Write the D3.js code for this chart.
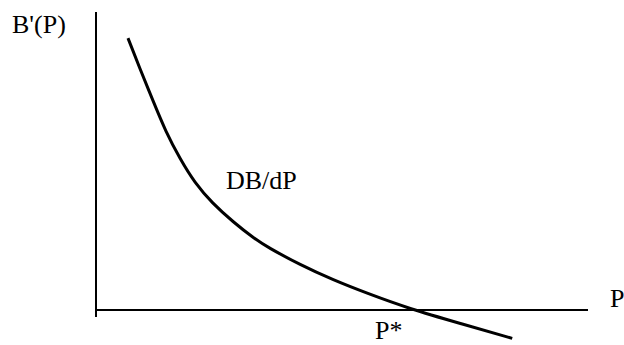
<!DOCTYPE html>
<html>
<head>
    <meta charset="UTF-8">
    <script src="https://d3js.org/d3.v7.min.js"></script>
    <style>
        body { margin: 0; background: #fff; }
    </style>
</head>
<body>
    <div id="chart"></div>
    <script>
        // marginal benefit curve
        const pValues = [6.5, 8.9, 11.6, 14.2, 17.1, 20.1, 23.6, 27.9, 32.3, 34.8, 41.5, 48.2, 55.1, 63.8, 74.0, 84.6];
        const bValues = [99.6, 88.5, 76.6, 65.2, 55.3, 46.5, 39.2, 32.2, 26.0, 23.1, 16.5, 11.0, 6.1, 0.4, -4.9, -10.4];
        const curveLabel = "DB/dP";
        const yLabel = "B'(P)";
        const xLabel = "P";
        const starLabel = "P*";

        const width = 624;
        const height = 345;

        const svg = d3.select('#chart')
            .append('svg')
            .attr('width', width)
            .attr('height', height);

        const xScale = d3.scaleLinear()
            .domain([0, 100])
            .range([96, 588]);

        const yScale = d3.scaleLinear()
            .domain([0, 100])
            .range([310, 37]);

        // axes: plain lines, no ticks
        svg.append('line')
            .attr('x1', xScale(0)).attr('x2', xScale(0))
            .attr('y1', yScale(109.2)).attr('y2', yScale(-2.6))
            .attr('stroke', '#000').attr('stroke-width', 2);

        svg.append('line')
            .attr('x1', xScale(0)).attr('x2', xScale(100))
            .attr('y1', yScale(0)).attr('y2', yScale(0))
            .attr('stroke', '#000').attr('stroke-width', 2);

        const data = pValues.map((p, i) => ({ p: p, b: bValues[i] }));

        const line = d3.line()
            .x(d => xScale(d.p))
            .y(d => yScale(d.b))
            .curve(d3.curveBasis);

        svg.append('path')
            .datum(data)
            .attr('fill', 'none')
            .attr('stroke', '#000')
            .attr('stroke-width', 3)
            .attr('d', line);

        function label(x, y, txt) {
            svg.append('text')
                .attr('x', x).attr('y', y)
                .attr('font-family', "'Liberation Serif', 'Times New Roman', serif")
                .attr('font-size', 26)
                .attr('fill', '#000')
                .text(txt);
        }
        label(12, 33, yLabel);
        label(610, 307, xLabel);
        label(226, 189, curveLabel);
        label(375, 339, starLabel);
    </script>
</body>
</html>
